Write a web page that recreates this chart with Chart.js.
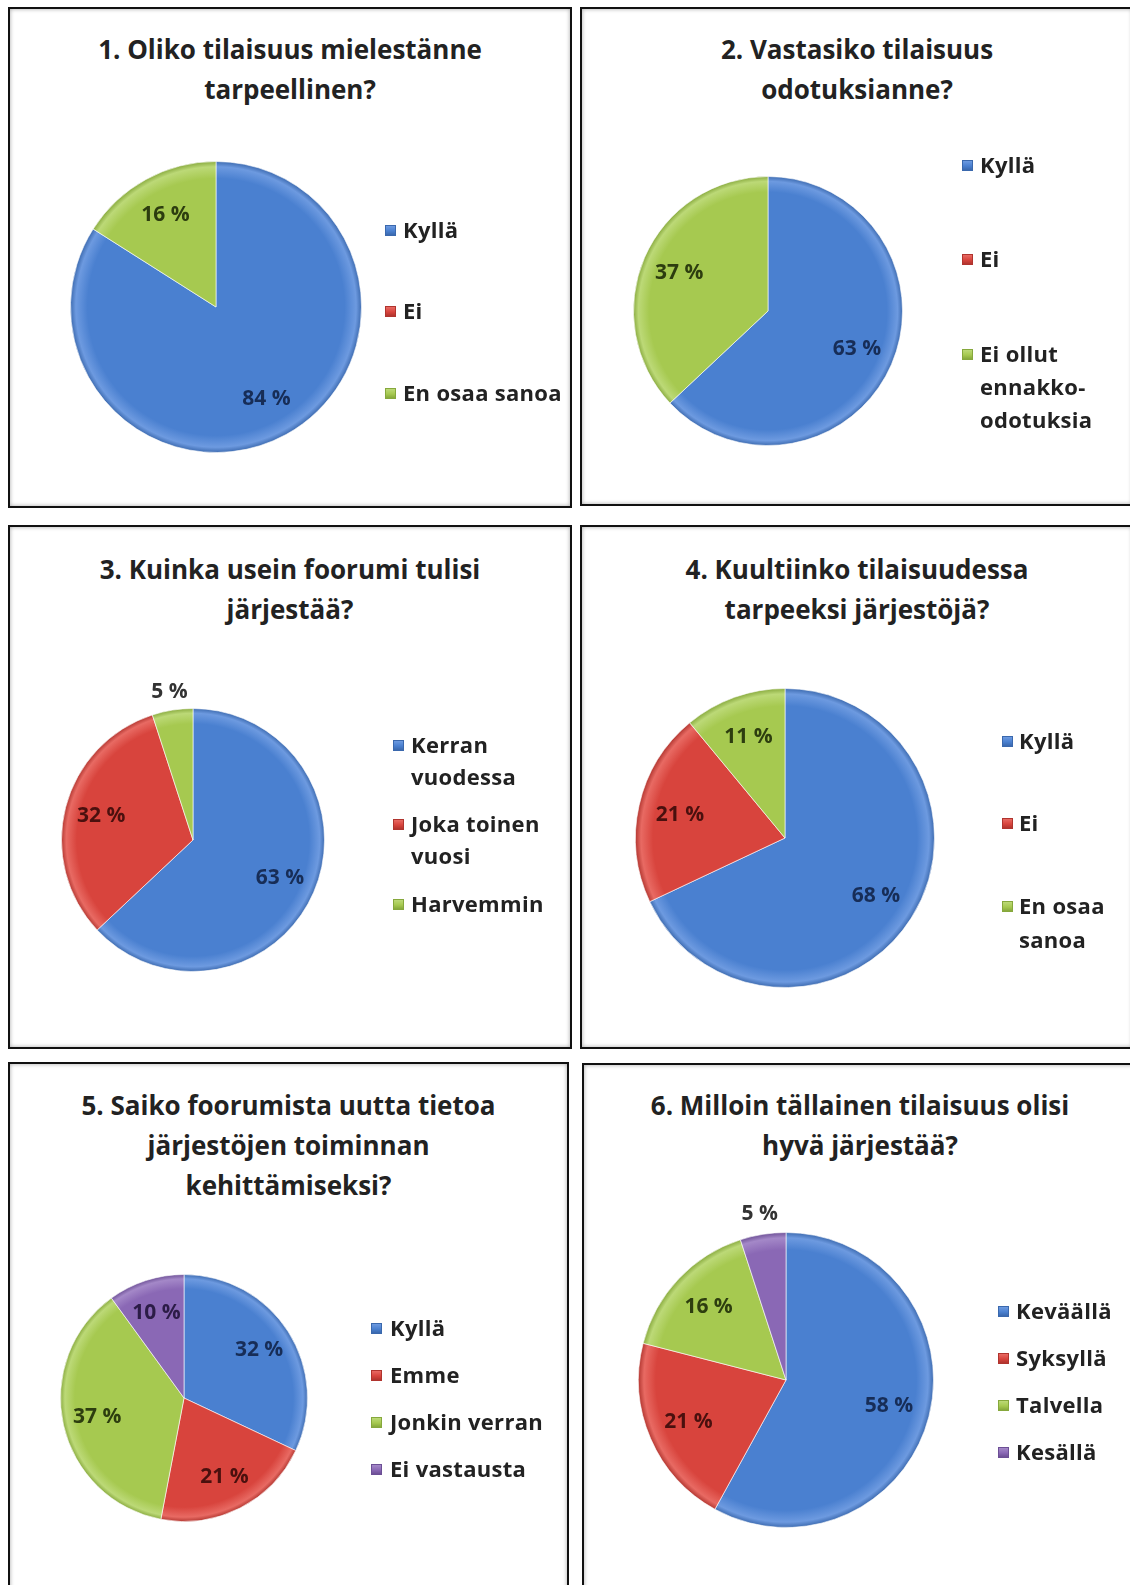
<!DOCTYPE html>
<html>
<head>
<meta charset="utf-8">
<script src="https://cdn.jsdelivr.net/npm/chart.js@4.4.1/dist/chart.umd.min.js"></script>
<style>
  html, body { margin:0; padding:0; background:#fff; }
  body { width:1130px; height:1585px; position:relative; overflow:hidden; font-family: "Open Sans", Lato, "DejaVu Sans", sans-serif; }
  .panel { position:absolute; box-sizing:border-box; border:2px solid #111; box-shadow: inset 0 0 4px rgba(0,0,0,0.35); background:#fff; }
  canvas.pie { position:absolute; }
  .title { position:absolute; text-align:center; font-weight:bold; font-size:26px; line-height:40px; color:#222; white-space:nowrap; letter-spacing:0px; }
  .leg { position:absolute; font-weight:bold; font-size:22px; color:#222; white-space:nowrap; letter-spacing:0.3px; }
  .leg .sq { position:absolute; width:11px; height:11px; box-sizing:border-box; }
</style>
</head>
<body>
<script>
// ---------------- DATA ----------------
const titles1 = ['1. Oliko tilaisuus mielestänne', 'tarpeellinen?'];
const categories1 = ['Kyllä', 'Ei', 'En osaa sanoa'];
const values1 = [84, 0, 16];

const titles2 = ['2. Vastasiko tilaisuus', 'odotuksianne?'];
const categories2 = ['Kyllä', 'Ei', ['Ei ollut', 'ennakko-', 'odotuksia']];
const values2 = [63, 0, 37];

const titles3 = ['3. Kuinka usein foorumi tulisi', 'järjestää?'];
const categories3 = [['Kerran', 'vuodessa'], ['Joka toinen', 'vuosi'], 'Harvemmin'];
const values3 = [63, 32, 5];

const titles4 = ['4. Kuultiinko tilaisuudessa', 'tarpeeksi järjestöjä?'];
const categories4 = ['Kyllä', 'Ei', ['En osaa', 'sanoa']];
const values4 = [68, 21, 11];

const titles5 = ['5. Saiko foorumista uutta tietoa', 'järjestöjen toiminnan', 'kehittämiseksi?'];
const categories5 = ['Kyllä', 'Emme', 'Jonkin verran', 'Ei vastausta'];
const values5 = [32, 21, 37, 10];

const titles6 = ['6. Milloin tällainen tilaisuus olisi', 'hyvä järjestää?'];
const categories6 = ['Keväällä', 'Syksyllä', 'Talvella', 'Kesällä'];
const values6 = [58, 21, 16, 5];

// ---------------- STYLE ----------------
const fillColors  = ['#4a80d0', '#d8443d', '#a6c950', '#8a68b5'];
const lightColors = ['#6d9ae0', '#e86a63', '#bcd977', '#a488c8'];
const edgeColors  = ['#3a68ad', '#b0342e', '#86a83c', '#6c4f95'];
const labelColors = ['#172d57', '#4a100e', '#2d3d0f', '#2c1c47'];
const outsideLabelColor = '#333333';

// ---------------- LAYOUT ----------------
const panels = [
  { titles: titles1, cats: categories1, vals: values1, box: [8, 7, 572, 508],    pie: [216, 307, 146], titleY: 49,   leg: { sq: 385, tx: 403, ys: [229, 310, 392], lh: 34 } },
  { titles: titles2, cats: categories2, vals: values2, box: [580, 7, 1134, 506],  pie: [768, 311, 135], titleY: 49,   leg: { sq: 962, tx: 980, ys: [164, 258, 353], lh: 33 } },
  { titles: titles3, cats: categories3, vals: values3, box: [8, 525, 572, 1049],  pie: [193, 840, 132], titleY: 569,  leg: { sq: 393, tx: 411, ys: [744, 823, 903], lh: 32 } },
  { titles: titles4, cats: categories4, vals: values4, box: [580, 525, 1134, 1049], pie: [785, 838, 150], titleY: 569, leg: { sq: 1002, tx: 1019, ys: [740, 822, 905], lh: 34 } },
  { titles: titles5, cats: categories5, vals: values5, box: [8, 1062, 569, 1600], pie: [184, 1398, 124], titleY: 1105, leg: { sq: 371, tx: 390, ys: [1327, 1374, 1421, 1468], lh: 34 } },
  { titles: titles6, cats: categories6, vals: values6, box: [582, 1063, 1138, 1600], pie: [786, 1380, 148], titleY: 1105, leg: { sq: 998, tx: 1016, ys: [1310, 1357, 1404, 1451], lh: 34 } }
];

// slice value labels plugin
const sliceLabels = {
  id: 'sliceLabels',
  afterDatasetsDraw(chart) {
    const ctx = chart.ctx;
    const meta = chart.getDatasetMeta(0);
    const ds = chart.data.datasets[0];
    meta.data.forEach((arc, i) => {
      const v = ds.data[i];
      if (!v) return;
      const p = arc.getProps(['x', 'y', 'startAngle', 'endAngle', 'outerRadius'], true);
      const mid = (p.startAngle + p.endAngle) / 2;
      const outside = v <= 5;
      const f = outside ? 1.14 : 0.72;
      const lx = p.x + Math.cos(mid) * p.outerRadius * f;
      const ly = p.y + Math.sin(mid) * p.outerRadius * f;
      ctx.save();
      ctx.font = 'bold 21px "Open Sans", Lato, sans-serif';
      ctx.fillStyle = outside ? outsideLabelColor : labelColors[i];
      ctx.textAlign = 'center';
      ctx.textBaseline = 'middle';
      ctx.fillText(v + ' %', lx, ly);
      ctx.restore();
    });
  }
};

// soft bevel look: radial gradient per slice colour
function sliceFill(ctx) {
  const chart = ctx.chart;
  const i = ctx.dataIndex;
  const a = chart.chartArea;
  if (!a) return fillColors[i];
  const x = (a.left + a.right) / 2, y = (a.top + a.bottom) / 2;
  const r = Math.min(a.right - a.left, a.bottom - a.top) / 2;
  const g = chart.ctx.createRadialGradient(x, y, 0, x, y, r);
  g.addColorStop(0, fillColors[i]);
  g.addColorStop(0.88, fillColors[i]);
  g.addColorStop(0.96, lightColors[i]);
  g.addColorStop(1, edgeColors[i]);
  return g;
}

function el(tag, cls, style, parent) {
  const e = document.createElement(tag);
  if (cls) e.className = cls;
  Object.assign(e.style, style || {});
  (parent || document.body).appendChild(e);
  return e;
}

panels.forEach((P) => {
  const [L, T, R, B] = P.box;
  const W = R - L, H = B - T;
  el('div', 'panel', { left: L + 'px', top: T + 'px', width: W + 'px', height: H + 'px' });

  // title
  const t = el('div', 'title', { left: L + 'px', width: W + 'px', top: (P.titleY - 20) + 'px' });
  t.innerHTML = P.titles.join('<br>');

  // chart
  const cv = el('canvas', 'pie', { left: L + 'px', top: T + 'px', width: W + 'px', height: H + 'px' });
  cv.width = W; cv.height = H;
  const [cx, cy, r] = P.pie;
  const pad = {
    left: cx - r - L,
    top: cy - r - T,
    right: R - (cx + r),
    bottom: B - (cy + r)
  };
  const chart = new Chart(cv, {
    type: 'pie',
    data: {
      labels: P.cats,
      datasets: [{
        data: P.vals,
        backgroundColor: sliceFill,
        borderColor: 'rgba(255,255,255,0.6)',
        borderWidth: 1
      }]
    },
    options: {
      responsive: false,
      animation: false,
      devicePixelRatio: 1,
      layout: { padding: pad },
      plugins: { legend: { display: false }, title: { display: false }, tooltip: { enabled: false } }
    },
    plugins: [sliceLabels]
  });

  // HTML legend generated from chart data
  const g = P.leg;
  chart.data.labels.forEach((lab, i) => {
    const lines = Array.isArray(lab) ? lab : [lab];
    const y0 = g.ys[i];
    const holder = el('div', 'leg', { left: g.sq + 'px', top: (y0 - 4) + 'px' });
    el('div', 'sq', {
      left: '0px', top: '0px',
      background: 'linear-gradient(to bottom, ' + lightColors[i] + ' 0%, ' + fillColors[i] + ' 55%, ' + edgeColors[i] + ' 100%)',
      border: '1px solid ' + edgeColors[i]
    }, holder);
    const tx = el('div', 'leg', { left: g.tx + 'px', top: (y0 - g.lh / 2) + 'px', lineHeight: g.lh + 'px' });
    tx.innerHTML = lines.join('<br>');
  });
});
</script>
</body>
</html>
